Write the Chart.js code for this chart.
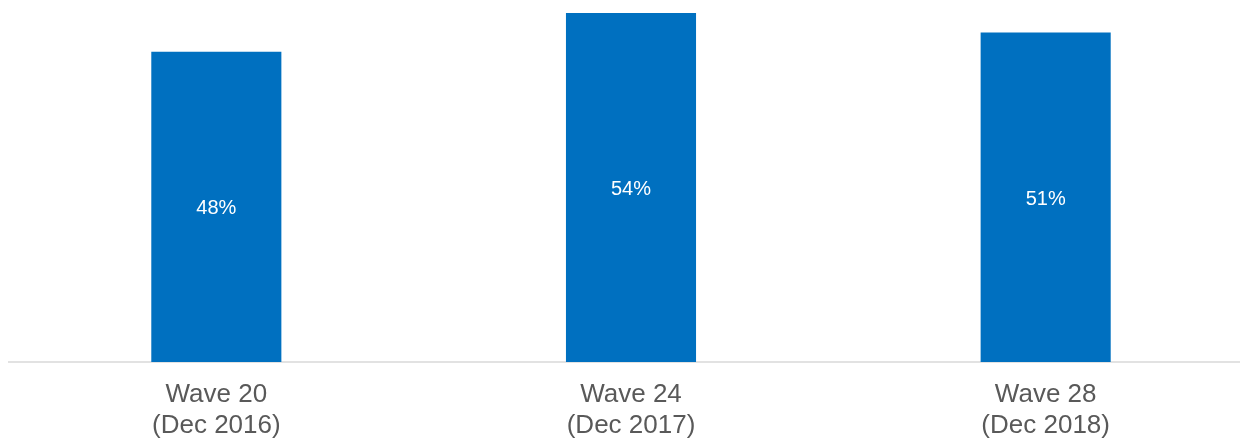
<!DOCTYPE html>
<html>
<head>
<meta charset="utf-8">
<script src="https://cdn.jsdelivr.net/npm/chart.js@4.4.1/dist/chart.umd.min.js"></script>
<style>
  html, body { margin: 0; padding: 0; background: #ffffff; overflow: hidden; }
  #wrap { position: relative; width: 1253px; height: 458px; }
</style>
</head>
<body>
<div id="wrap"><canvas id="chart"></canvas></div>
<script>
// Share of respondents by survey wave
const waveLabels = [
  ['Wave 20', '(Dec 2016)'],
  ['Wave 24', '(Dec 2017)'],
  ['Wave 28', '(Dec 2018)']
];
const shareValues = [48, 54, 51];

// Writes each bar's value, centred inside the bar
const centreLabels = {
  id: 'centreLabels',
  afterDatasetsDraw(chart) {
    const { ctx } = chart;
    const meta = chart.getDatasetMeta(0);
    ctx.save();
    ctx.fillStyle = '#ffffff';
    ctx.font = '20px "Liberation Sans", Arial, sans-serif';
    ctx.textAlign = 'center';
    ctx.textBaseline = 'middle';
    meta.data.forEach((bar, i) => {
      const v = chart.data.datasets[0].data[i];
      ctx.fillText(v + '%', bar.x, (bar.y + bar.base) / 2 + 2);
    });
    ctx.restore();
  }
};

new Chart(document.getElementById('chart'), {
  type: 'bar',
  data: {
    labels: waveLabels,
    datasets: [{
      data: shareValues,
      backgroundColor: '#0070C0',
      borderWidth: 0,
      barPercentage: 1,
      categoryPercentage: 0.3137
    }]
  },
  options: {
    responsive: true,
    maintainAspectRatio: false,
    animation: false,
    layout: { padding: { left: 9, top: 13, right: 0, bottom: 0 } },
    plugins: {
      legend: { display: false },
      tooltip: { enabled: false }
    },
    scales: {
      x: {
        grid: { display: false, drawTicks: false },
        border: { display: true, color: '#e2e2e2', width: 2 },
        ticks: {
          color: '#595959',
          padding: 17,
          font: { family: '"Liberation Sans", Arial, sans-serif', size: 26, lineHeight: '31px' }
        }
      },
      y: {
        display: false,
        min: 0,
        max: 54
      }
    }
  },
  plugins: [centreLabels]
});
</script>
</body>
</html>
